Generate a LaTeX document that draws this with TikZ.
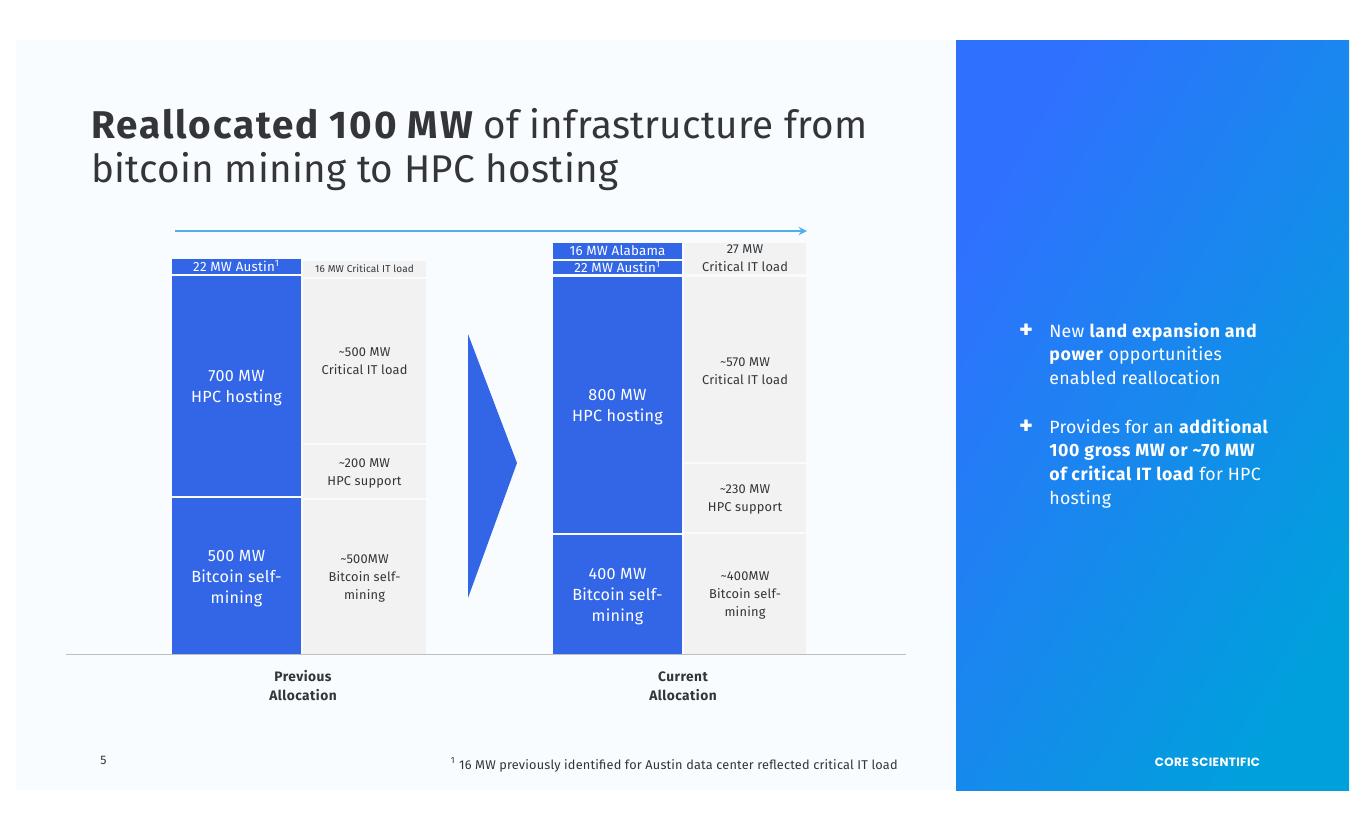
\documentclass[tikz,border=0pt]{standalone}
\usepackage{fontspec}
\setmainfont{Fira Sans}[LetterSpace=1.5, BoldFeatures={LetterSpace=3.4}]
\newfontfamily\logofont{Poppins}[LetterSpace=3]
\newfontfamily\titlebold{Fira Sans Bold}[LetterSpace=4.9]
\newfontfamily\titlelight{Fira Sans}[LetterSpace=0.8]
\usepackage{tikz}
\definecolor{panelbg}{HTML}{F9FCFF}
\definecolor{barblue}{HTML}{3366E6}
\definecolor{bargray}{HTML}{F2F2F2}
\definecolor{inkdark}{HTML}{333538}
\definecolor{flowblue}{HTML}{4FAEEB}
\definecolor{sidetop}{HTML}{3070FF}
\definecolor{sidelow}{HTML}{00A0DC}
\tikzset{
    bluebar/.style={fill=barblue, text=white},
    graybar/.style={fill=bargray, text=inkdark},
    bigtext/.style={font=\fontsize{9.2}{12}\selectfont, align=center, inner sep=0pt, yshift=-1.3pt},
    midtext/.style={font=\fontsize{7.3}{10.2}\selectfont, align=center, inner sep=0pt, yshift=-1pt},
    tagtext/.style={font=\fontsize{7.6}{9}\selectfont, align=center, inner sep=0pt, yshift=0.4pt},
    axistext/.style={font=\fontsize{7.8}{10.8}\selectfont\bfseries, text=inkdark, align=center, inner sep=0pt},
    sidetext/.style={font=\fontsize{10.1}{13.5}\selectfont, text=white, align=left, anchor=north west, inner sep=0pt}
}

\begin{document}
\begin{tikzpicture}[x=0.02cm, y=-0.02cm]
    \useasboundingbox (0,0) rectangle (1365,829);
    \fill[white] (0,0) rectangle (1365,829);
    \fill[panelbg] (16,40) rectangle (956,790);
    \shade[left color=sidetop, right color=sidelow, shading angle=60] (956,40) rectangle (1349,790);

    % title
    \node[anchor=north west, inner sep=0pt, align=left, text=inkdark, font=\fontsize{22}{25.6}\titlelight] (title) at (91,107.5)
        {{\titlebold Reallocated 100 MW} of infrastructure from\\bitcoin mining to HPC hosting};

    % flow arrow and axis
    \coordinate (flowa) at (175,231);
    \coordinate (flowb) at (807,231);
    \draw[->, >=stealth, flowblue, line width=1.1pt] (flowa) -- (flowb);
    \coordinate (axisa) at (66,654.5);
    \coordinate (axisb) at (906,654.5);
    \draw[gray!50, line width=0.6pt] (axisa) -- (axisb);

    % previous allocation
    \path[bluebar] (172,259) rectangle (301,274) node[midway, tagtext] (oldaustin) {22 MW Austin\textsuperscript{1}};
    \path[bluebar] (172,276) rectangle (301,496) node[midway, bigtext] (oldhpc) {700 MW\\HPC hosting};
    \path[bluebar] (172,498) rectangle (301,654) node[midway, bigtext] (oldbtc) {500 MW\\Bitcoin self-\\mining};
    \path[graybar] (303,261) rectangle (426,277) node[midway, inner sep=0pt, font=\fontsize{5.7}{7}\selectfont] (oldsmall) {16 MW Critical IT load};
    \path[graybar] (303,279) rectangle (426,443) node[midway, midtext, yshift=1pt] (oldit) {\textasciitilde500 MW\\Critical IT load};
    \path[graybar] (303,445) rectangle (426,498) node[midway, midtext] (oldsup) {\textasciitilde200 MW\\HPC support};
    \path[graybar] (303,500) rectangle (426,654) node[midway, midtext] (oldmine) {\textasciitilde500MW\\Bitcoin self-\\mining};

    % big arrow
    \fill[barblue] (468,334) -- (517,463) -- (468,598) -- cycle;

    % current allocation
    \path[bluebar] (553,243) rectangle (682,259) node[midway, tagtext] (newbama) {16 MW Alabama};
    \path[bluebar] (553,261) rectangle (682,274) node[midway, tagtext] (newaustin) {22 MW Austin\textsuperscript{1}};
    \path[bluebar] (553,277) rectangle (682,533) node[midway, bigtext] (newhpc) {800 MW\\HPC hosting};
    \path[bluebar] (553,535) rectangle (682,654) node[midway, bigtext] (newbtc) {400 MW\\Bitcoin self-\\mining};
    \path[graybar] (684,243) rectangle (806,274) node[midway, midtext, yshift=1pt] (newsmall) {27 MW\\Critical IT load};
    \path[graybar] (684,277) rectangle (806,462) node[midway, midtext] (newit) {\textasciitilde570 MW\\Critical IT load};
    \path[graybar] (684,464) rectangle (806,532) node[midway, midtext] (newsup) {\textasciitilde230 MW\\HPC support};
    \path[graybar] (684,534) rectangle (806,654) node[midway, midtext] (newmine) {\textasciitilde400MW\\Bitcoin self-\\mining};

    \node[axistext] (prevlabel) at (303,686) {Previous\\Allocation};
    \node[axistext] (currlabel) at (683,686) {Current\\Allocation};

    % footer
    \node[inner sep=0pt, text=inkdark, font=\fontsize{7}{8}\selectfont] (pagenum) at (103.5,760) {5};
    \node[anchor=east, inner sep=0pt, text=inkdark, font=\fontsize{7.25}{8}\selectfont] (footnote) at (898,765)
        {\textsuperscript{1} 16 MW previously identified for Austin data center reflected critical IT load};

    % side panel
    \node[inner sep=0pt, text=white, font=\fontsize{15}{15}\selectfont\bfseries] (plusa) at (1026,331) {+};
    \node[sidetext] (sidea) at (1049,322.5)
        {New \textbf{land expansion and}\\\textbf{power} opportunities\\enabled reallocation};
    \node[inner sep=0pt, text=white, font=\fontsize{15}{15}\selectfont\bfseries] (plusb) at (1026,427) {+};
    \node[sidetext] (sideb) at (1049,418.5)
        {Provides for an \textbf{additional}\\\textbf{100 gross MW or \textasciitilde70 MW}\\\textbf{of critical IT load} for HPC\\hosting};
    \node[inner sep=0pt, text=white, font=\fontsize{6.8}{7}\logofont\bfseries] (logo) at (1207.5,762) {CORE SCIENTIFIC};
\end{tikzpicture}
\end{document}
